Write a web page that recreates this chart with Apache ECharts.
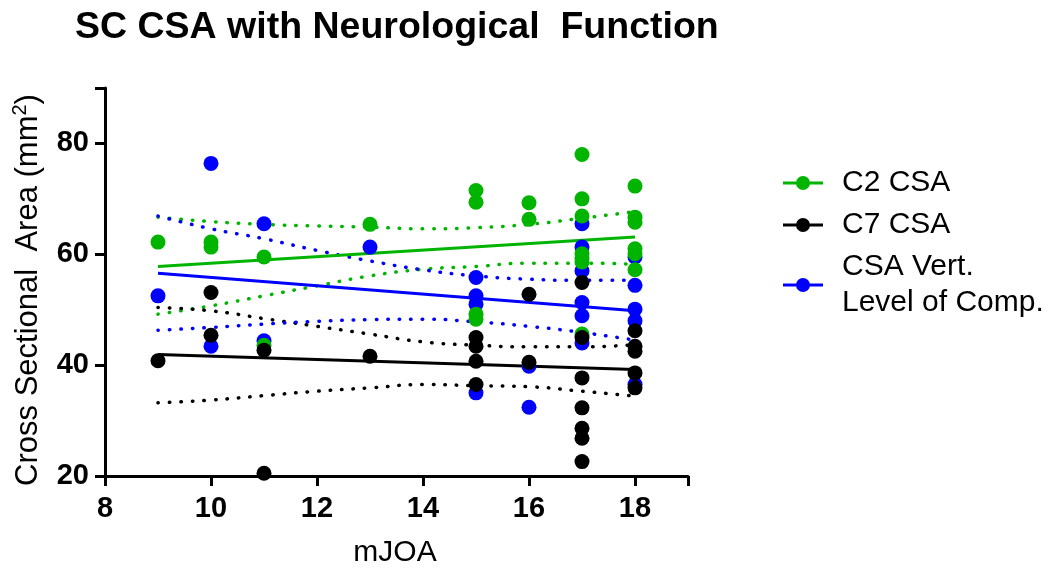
<!DOCTYPE html>
<html>
<head>
<meta charset="utf-8">
<title>SC CSA with Neurological Function</title>
<script src="https://cdn.jsdelivr.net/npm/echarts@6/dist/echarts.min.js"></script>
<style>
    html, body { margin: 0; padding: 0; background: #fff; }
    #chart-container { width: 1058px; height: 571px; }
</style>
</head>
<body>
<div id="chart-container"></div>
<script>
// 1. Achsen-Ticks
const xTicks = [8, 10, 12, 14, 16, 18];
const yTicks = [20, 40, 60, 80];

// 2. Messpunkte [mJOA, CSA]
const c2Points = [
    [9, 62.2], [10, 62.2], [10, 61.3], [11, 59.5], [11, 43.6], [13, 65.4],
    [15, 71.5], [15, 69.4], [15, 49.2], [15, 48.3], [16, 69.3], [16, 66.3],
    [17, 78.0], [17, 70.0], [17, 66.9], [17, 60.1], [17, 59.3], [17, 58.6], [17, 45.6],
    [18, 72.3], [18, 66.7], [18, 65.8], [18, 61.0], [18, 60.1], [18, 57.2]
];
const c7Points = [
    [9, 40.8], [10, 53.1], [10, 45.4], [11, 42.7], [11, 20.5], [13, 41.6],
    [15, 45.0], [15, 43.4], [15, 40.7], [15, 36.5], [16, 52.8], [16, 40.5],
    [17, 54.9], [17, 45.0], [17, 37.7], [17, 32.3], [17, 28.6], [17, 26.8], [17, 22.6],
    [18, 46.2], [18, 43.4], [18, 42.5], [18, 38.6], [18, 35.9]
];
const vertPoints = [
    [9, 52.5], [10, 76.4], [10, 43.4], [11, 65.5], [11, 44.4], [13, 61.3],
    [15, 55.8], [15, 52.5], [15, 51.0], [15, 35.0], [16, 39.8], [16, 32.4],
    [17, 65.5], [17, 61.3], [17, 57.0], [17, 51.3], [17, 48.9], [17, 44.0],
    [18, 59.5], [18, 54.4], [18, 50.1], [18, 48.0], [18, 36.5]
];

const c2Fit = [[9, 57.8], [18, 63.1]];
const c7Fit = [[9, 41.9], [18, 39.2]];
const vertFit = [[9, 56.6], [18, 49.8]];

const bandX = [9, 10, 11, 12, 13, 14, 15, 16, 17, 18];
const c2Upper = [66.7, 65.9, 65.4, 65.1, 64.9, 64.6, 64.8, 65.4, 66.5, 67.7];
const c2Lower = [49.2, 50.7, 52.5, 54.3, 56.1, 57.3, 57.8, 58.4, 58.4, 58.2];
const c7Upper = [50.4, 49.8, 48.4, 47.0, 45.6, 44.2, 43.6, 43.3, 43.3, 43.7];
const c7Lower = [33.2, 33.7, 34.5, 35.3, 35.9, 36.5, 36.3, 36.1, 35.3, 34.4];
const vertUpper = [66.9, 64.6, 62.8, 60.7, 58.8, 57.2, 56.1, 55.5, 55.3, 55.3];
const vertLower = [46.3, 46.8, 47.4, 47.9, 48.2, 48.3, 47.8, 47.0, 45.9, 44.5];

const GREEN = '#00b400';
const BLACK = '#000000';
const BLUE = '#0000ff';
const FONT = '"Liberation Sans", Arial, sans-serif';

// Legenden-Icon: Linie mit Punkt
const legendIcon = 'path://M0,5.5H40V8.5H0Z M13,7A7,7 0 1,1 27,7A7,7 0 1,1 13,7Z';

function zip(xs, ys) {
    return xs.map((x, i) => [x, ys[i]]);
}

function fitLine(name, data, color) {
    return {
        name: name, type: 'line', data: data, symbol: 'none', silent: true, z: 2,
        lineStyle: { color: color, width: 3 }
    };
}

function bandLine(name, ys, color) {
    return {
        name: name, type: 'line', data: zip(bandX, ys), symbol: 'none', smooth: true, silent: true, z: 2,
        lineStyle: { color: color, width: 3.5, type: [0.5, 11], cap: 'round' }
    };
}

function scatter(name, data, color, z) {
    return {
        name: name, type: 'scatter', data: data, symbolSize: 15, z: z,
        itemStyle: { color: color, opacity: 1 }
    };
}

const chartDom = document.getElementById('chart-container');
const myChart = echarts.init(chartDom);

const option = {
    animation: false,
    backgroundColor: '#fff',
    title: {
        text: 'SC CSA with Neurological  Function',
        left: 70,
        top: 4,
        textStyle: { fontFamily: FONT, fontSize: 37.5, fontWeight: 'bold', color: '#000' }
    },
    legend: {
        orient: 'vertical',
        left: 778,
        top: 160,
        itemWidth: 40,
        itemHeight: 14,
        itemGap: 6,
        icon: legendIcon,
        data: ['C2 CSA', 'C7 CSA', 'CSA Vert.\nLevel of Comp.'],
        textStyle: { fontFamily: FONT, fontSize: 30, lineHeight: 36, color: '#000', padding: [0, 0, 0, 14] }
    },
    // Achsentitel als Textelemente, damit das Raster nicht verkleinert wird
    graphic: [
        {
            type: 'text',
            x: 28,
            y: 290,
            rotation: Math.PI / 2,
            silent: true,
            style: {
                text: 'Cross Sectional  Area (mm{sup|2})',
                fontFamily: FONT, fontSize: 31, fill: '#000', lineHeight: 36,
                align: 'center', verticalAlign: 'middle',
                rich: { sup: { fontFamily: FONT, fontSize: 20, fill: '#000', verticalAlign: 'top', lineHeight: 22 } }
            }
        },
        {
            type: 'text',
            x: 395,
            y: 553,
            silent: true,
            style: {
                text: 'mJOA',
                fontFamily: FONT, fontSize: 30, fill: '#000',
                align: 'center', verticalAlign: 'middle'
            }
        }
    ],
    grid: { left: 105, right: 370, top: 88, bottom: 95 },
    xAxis: {
        type: 'value',
        min: 8,
        max: 19,
        interval: 2,
        axisLine: { show: true, lineStyle: { color: '#000', width: 3 } },
        axisTick: { show: true, length: 10, lineStyle: { color: '#000', width: 3 } },
        axisLabel: { fontFamily: FONT, fontSize: 29, fontWeight: 'bold', color: '#000', margin: 18, customValues: xTicks },
        splitLine: { show: false }
    },
    yAxis: {
        type: 'value',
        min: 20,
        max: 90,
        interval: 20,
        axisLine: { show: true, lineStyle: { color: '#000', width: 3 } },
        axisTick: { show: true, length: 10, lineStyle: { color: '#000', width: 3 } },
        axisLabel: { fontFamily: FONT, fontSize: 29, fontWeight: 'bold', color: '#000', margin: 16, customValues: yTicks },
        splitLine: { show: false }
    },
    series: [
        bandLine('c2-upper', c2Upper, GREEN),
        bandLine('c2-lower', c2Lower, GREEN),
        bandLine('c7-upper', c7Upper, BLACK),
        bandLine('c7-lower', c7Lower, BLACK),
        bandLine('vert-upper', vertUpper, BLUE),
        bandLine('vert-lower', vertLower, BLUE),
        fitLine('c2-fit', c2Fit, GREEN),
        fitLine('c7-fit', c7Fit, BLACK),
        fitLine('vert-fit', vertFit, BLUE),
        scatter('CSA Vert.\nLevel of Comp.', vertPoints, BLUE, 3),
        scatter('C2 CSA', c2Points, GREEN, 4),
        scatter('C7 CSA', c7Points, BLACK, 5)
    ]
};

myChart.setOption(option);

window.addEventListener('resize', () => {
    myChart.resize();
});
</script>
</body>
</html>
